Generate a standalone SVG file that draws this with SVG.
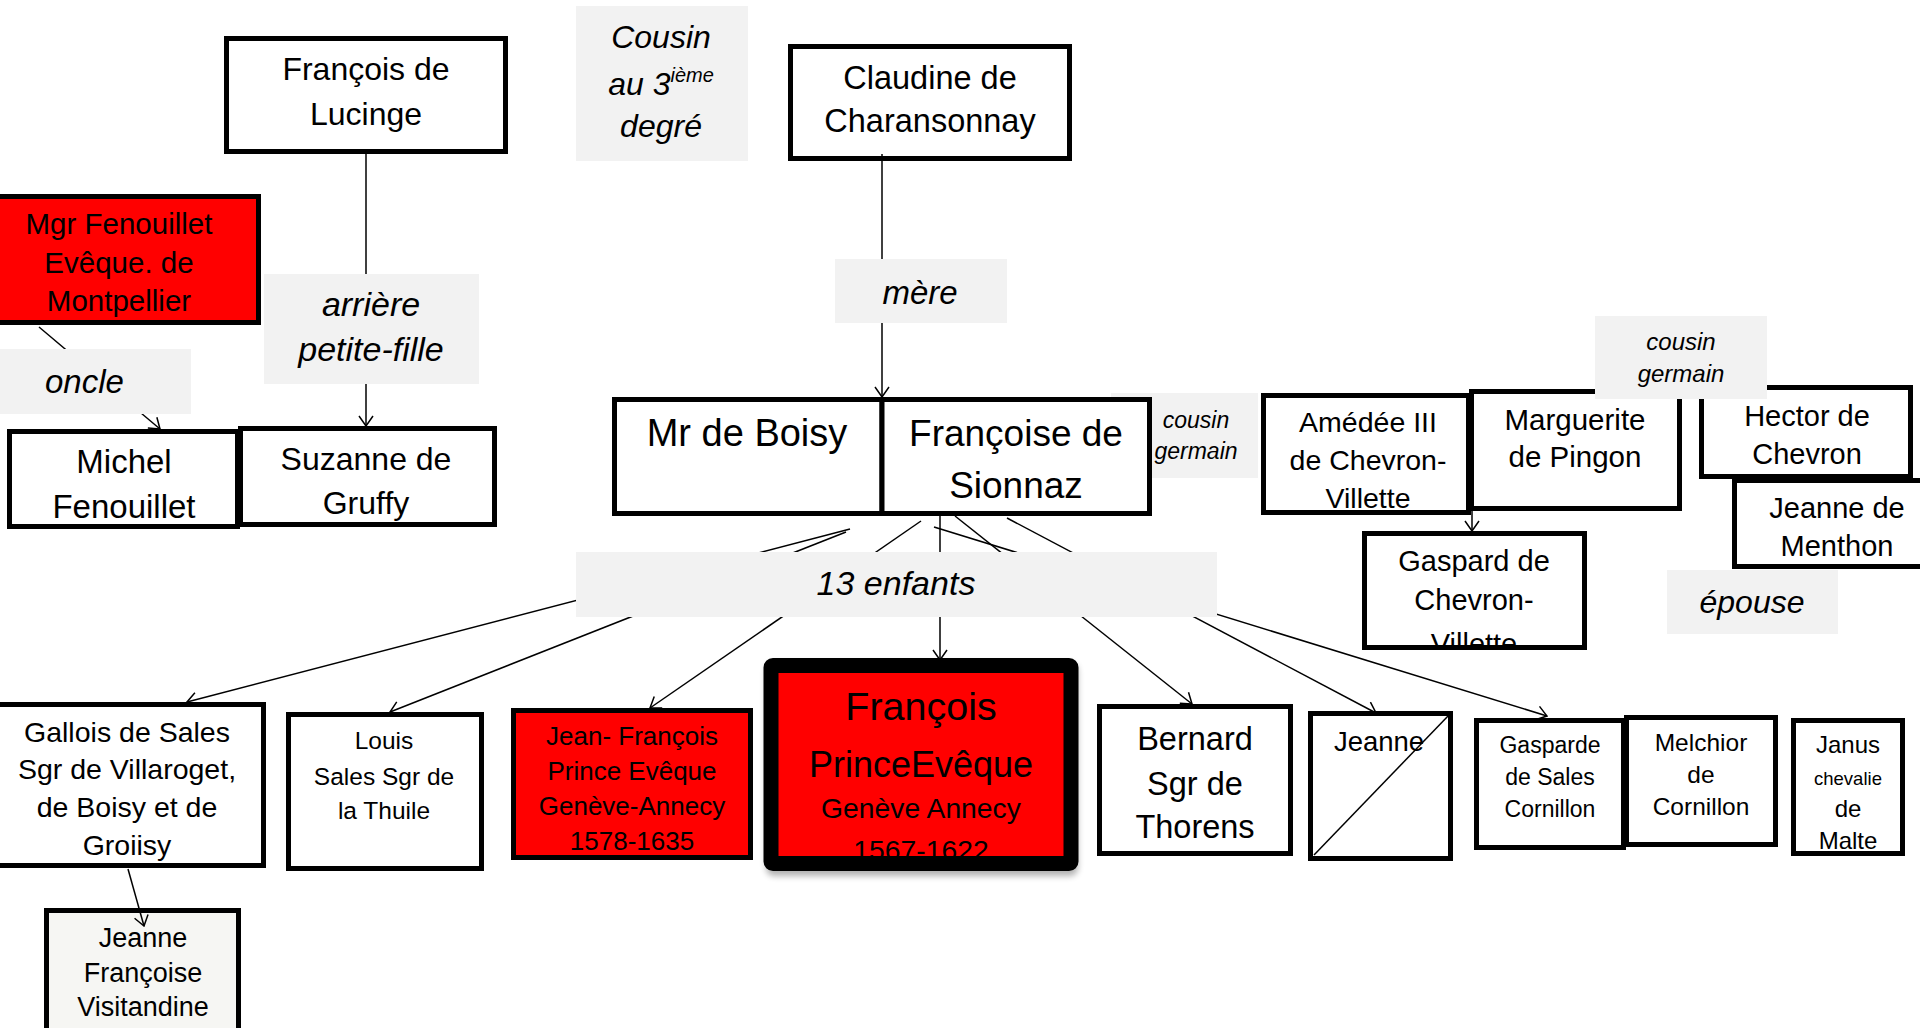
<svg xmlns="http://www.w3.org/2000/svg" width="1920" height="1028" viewBox="0 0 1920 1028">
<style>
.box{fill:#fff;stroke:#000;stroke-width:5}
.red{fill:#ff0000}
.nf{fill:none;stroke:#000;stroke-width:5}
.lbl{fill:#f2f2f2}
text{font-family:"Liberation Sans",Arial,sans-serif;fill:#000;text-anchor:middle}
.i{font-style:italic}
.conn{stroke:#000;stroke-width:1.5;fill:none}
</style>
<defs>
<marker id="arr" viewBox="0 0 12 16" refX="11" refY="8" markerWidth="12" markerHeight="16" markerUnits="userSpaceOnUse" orient="auto">
<path d="M1,1 L11,8 L1,15" fill="none" stroke="#000" stroke-width="1.5"/>
</marker>
<clipPath id="clipGaspard"><rect x="1367" y="536" width="215" height="109"/></clipPath>
<filter id="shadow" x="-10%" y="-10%" width="130%" height="130%"><feGaussianBlur stdDeviation="3"/></filter>
</defs>
<rect width="1920" height="1028" fill="#fff"/>

<g id="label-cousin-germain-left">
<rect class="lbl" x="1111" y="393" width="147" height="85"/>
<text class="i" x="1196" y="428" font-size="23">cousin</text>
<text class="i" x="1196" y="459" font-size="23">germain</text>
</g>

<g id="node-lucinge">
<rect class="box" x="226.5" y="38.5" width="279" height="113"/>
<text x="366" y="80" font-size="32">François de</text>
<text x="366" y="125" font-size="32">Lucinge</text>
</g>
<g id="node-claudine">
<rect class="box" x="790.5" y="46.5" width="279" height="112"/>
<text x="930" y="89" font-size="32.5">Claudine de</text>
<text x="930" y="132" font-size="32.5">Charansonnay</text>
</g>
<g id="node-mgr-fenouillet">
<rect class="box red" x="-2.5" y="196.5" width="261" height="126"/>
<text x="119" y="234" font-size="29.5">Mgr Fenouillet</text>
<text x="119" y="273" font-size="29.5">Evêque. de</text>
<text x="119" y="311" font-size="29.5">Montpellier</text>
</g>
<g id="node-michel">
<rect class="box" x="9.5" y="431.5" width="228" height="95"/>
<text x="124" y="473" font-size="33">Michel</text>
<text x="124" y="518" font-size="33">Fenouillet</text>
</g>
<g id="node-suzanne">
<rect class="box" x="240.5" y="428.5" width="254" height="96"/>
<text x="366" y="470" font-size="32">Suzanne de</text>
<text x="366" y="514" font-size="32">Gruffy</text>
</g>
<g id="node-boisy">
<rect class="box" x="614.5" y="399.5" width="267.5" height="114"/>
<text x="747" y="446" font-size="38">Mr de Boisy</text>
</g>
<g id="node-francoise-sionnaz">
<rect class="box" x="882" y="399.5" width="267.5" height="114"/>
<text x="1016" y="446" font-size="37">Françoise de</text>
<text x="1016" y="498" font-size="37">Sionnaz</text>
</g>
<g id="node-amedee">
<rect class="box" x="1263.5" y="395.5" width="205" height="117"/>
<text x="1368" y="432" font-size="28.5">Amédée III</text>
<text x="1368" y="470" font-size="28.5">de Chevron-</text>
<text x="1368" y="508" font-size="28.5">Villette</text>
</g>
<g id="node-marguerite">
<rect class="box" x="1471.5" y="391.5" width="208" height="117"/>
<text x="1575" y="430" font-size="29.5">Marguerite</text>
<text x="1575" y="467" font-size="29.5">de Pingon</text>
</g>
<g id="node-hector">
<rect class="box" x="1701.5" y="387.5" width="209" height="89"/>
<text x="1807" y="426" font-size="29">Hector de</text>
<text x="1807" y="464" font-size="29">Chevron</text>
</g>
<g id="node-jeanne-menthon">
<rect class="box" x="1734.5" y="480.5" width="200" height="86"/>
<text x="1837" y="518" font-size="29">Jeanne de</text>
<text x="1837" y="556" font-size="29">Menthon</text>
</g>
<g id="node-gaspard">
<rect x="1364.5" y="533.5" width="220" height="114" fill="#fff"/>
<g clip-path="url(#clipGaspard)">
<text x="1474" y="571" font-size="29">Gaspard de</text>
<text x="1474" y="610" font-size="29">Chevron-</text>
<text x="1474" y="654" font-size="29">Villette</text>
</g>
<rect class="nf" x="1364.5" y="533.5" width="220" height="114"/>
</g>
<g id="node-gallois">
<rect class="box" x="-2.5" y="704.5" width="266" height="161"/>
<text x="127" y="742" font-size="28.5">Gallois de Sales</text>
<text x="127" y="779" font-size="28.5">Sgr de Villaroget,</text>
<text x="127" y="817" font-size="28.5">de Boisy et de</text>
<text x="127" y="855" font-size="28.5">Groiisy</text>
</g>
<g id="node-louis">
<rect class="box" x="288.5" y="714.5" width="193" height="154"/>
<text x="384" y="749" font-size="24.5">Louis</text>
<text x="384" y="785" font-size="24.5">Sales Sgr de</text>
<text x="384" y="819" font-size="24.5">la Thuile</text>
</g>
<g id="node-jean-francois">
<rect class="box red" x="513.5" y="710.5" width="237" height="147"/>
<text x="632" y="745" font-size="26">Jean- François</text>
<text x="632" y="780" font-size="26">Prince Evêque</text>
<text x="632" y="815" font-size="26">Genève-Annecy</text>
<text x="632" y="850" font-size="26">1578-1635</text>
</g>
<g id="node-francois">
<rect x="766" y="663" width="312" height="213" rx="8" fill="#000" opacity="0.3" filter="url(#shadow)"/>
<rect x="771" y="665.5" width="300" height="198" fill="#ff0000"/>
<text x="921" y="720" font-size="39.5">François</text>
<text x="921" y="777" font-size="36">PrinceEvêque</text>
<text x="921" y="818" font-size="28.3">Genève Annecy</text>
<text x="921" y="860" font-size="28.3">1567-1622</text>
<rect x="771" y="665.5" width="300" height="198" rx="2" fill="none" stroke="#000" stroke-width="15"/>
</g>
<g id="node-bernard">
<rect class="box" x="1099.5" y="706.5" width="191" height="147"/>
<text x="1195" y="750" font-size="32.5">Bernard</text>
<text x="1195" y="795" font-size="32.5">Sgr de</text>
<text x="1195" y="838" font-size="32.5">Thorens</text>
</g>
<g id="node-jeanne">
<rect class="box" x="1310.5" y="713.5" width="140" height="145"/>
<text x="1379" y="751" font-size="27.5">Jeanne</text>
<line x1="1314" y1="855" x2="1449" y2="715" stroke="#000" stroke-width="1.5"/>
</g>
<g id="node-gasparde">
<rect class="box" x="1476.5" y="720.5" width="147" height="127"/>
<text x="1550" y="753" font-size="23">Gasparde</text>
<text x="1550" y="785" font-size="23">de Sales</text>
<text x="1550" y="817" font-size="23">Cornillon</text>
</g>
<g id="node-melchior">
<rect class="box" x="1626.5" y="717.5" width="149" height="127"/>
<text x="1701" y="751" font-size="24.5">Melchior</text>
<text x="1701" y="783" font-size="24.5">de</text>
<text x="1701" y="815" font-size="24.5">Cornillon</text>
</g>
<g id="node-janus">
<rect class="box" x="1793.5" y="720.5" width="109" height="133"/>
<text x="1848" y="753" font-size="24">Janus</text>
<text x="1848" y="785" font-size="18.5">chevalie</text>
<text x="1848" y="817" font-size="24">de</text>
<text x="1848" y="849" font-size="24">Malte</text>
</g>
<g id="node-visitandine">
<rect x="46.5" y="910.5" width="192" height="125" fill="#f6f6f3" stroke="#000" stroke-width="5"/>
<text x="143" y="947" font-size="27">Jeanne</text>
<text x="143" y="982" font-size="27">Françoise</text>
<text x="143" y="1016" font-size="27">Visitandine</text>
</g>

<g id="connectors" class="conn">
<line x1="366" y1="154" x2="366" y2="426" marker-end="url(#arr)"/>
<line x1="882" y1="154" x2="882" y2="397" marker-end="url(#arr)"/>
<line x1="39" y1="327" x2="160" y2="429" marker-end="url(#arr)"/>
<line x1="1472" y1="508" x2="1472" y2="531" marker-end="url(#arr)"/>
<line x1="128" y1="869" x2="144" y2="926" marker-end="url(#arr)"/>
<line x1="850" y1="529" x2="187" y2="702" marker-end="url(#arr)"/>
<line x1="846" y1="532" x2="390" y2="712" marker-end="url(#arr)"/>
<line x1="921" y1="521" x2="650" y2="708" marker-end="url(#arr)"/>
<line x1="940" y1="516" x2="940" y2="660" marker-end="url(#arr)"/>
<line x1="955" y1="516" x2="1192" y2="704" marker-end="url(#arr)"/>
<line x1="1007" y1="518" x2="1376" y2="713" marker-end="url(#arr)"/>
<line x1="934" y1="527" x2="1547" y2="716" marker-end="url(#arr)"/>
</g>

<g id="label-cousin-3">
<rect class="lbl" x="576" y="6" width="172" height="155"/>
<text class="i" x="661" y="48" font-size="32">Cousin</text>
<text class="i" x="661" y="95" font-size="32">au 3<tspan font-size="20" dy="-13">ième</tspan></text>
<text class="i" x="661" y="137" font-size="32">degré</text>
</g>
<g id="label-arriere">
<rect class="lbl" x="264" y="274" width="215" height="110"/>
<text class="i" x="371" y="316" font-size="34">arrière</text>
<text class="i" x="371" y="361" font-size="34">petite-fille</text>
</g>
<g id="label-oncle">
<rect class="lbl" x="0" y="349" width="191" height="65"/>
<text class="i" x="45" y="393" font-size="33" style="text-anchor:start">oncle</text>
</g>
<g id="label-mere">
<rect class="lbl" x="835" y="259" width="172" height="64"/>
<text class="i" x="920" y="304" font-size="33">mère</text>
</g>
<g id="label-13-enfants">
<rect class="lbl" x="576" y="552" width="641" height="65"/>
<text class="i" x="896" y="595" font-size="34">13 enfants</text>
</g>
<g id="label-epouse">
<rect class="lbl" x="1667" y="570" width="171" height="64"/>
<text class="i" x="1752" y="613" font-size="32">épouse</text>
</g>
<g id="label-cousin-germain-top">
<rect class="lbl" x="1595" y="316" width="172" height="83"/>
<text class="i" x="1681" y="350" font-size="24">cousin</text>
<text class="i" x="1681" y="382" font-size="24">germain</text>
</g>
</svg>
